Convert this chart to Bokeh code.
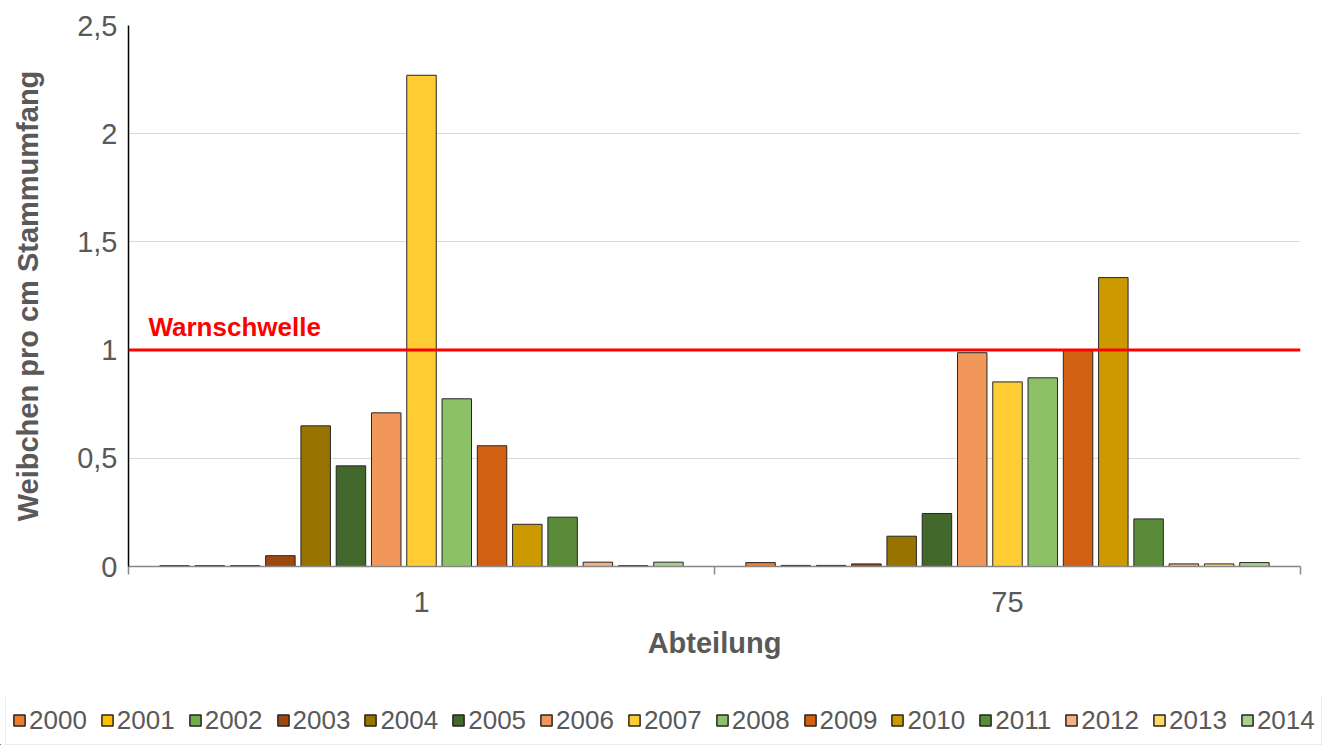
from bokeh.plotting import figure
from bokeh.layouts import column
from bokeh.models import ColumnDataSource, FixedTicker, Range1d, Span, Label, Legend, LegendItem
from bokeh.embed import file_html
from bokeh.resources import INLINE

# ---- data ----
abteilungen = ["1", "75"]
years = ["2000", "2001", "2002", "2003", "2004", "2005", "2006", "2007",
         "2008", "2009", "2010", "2011", "2012", "2013", "2014"]
values_1 = [0.004, 0.004, 0.004, 0.05, 0.65, 0.465, 0.71, 2.27,
            0.775, 0.558, 0.195, 0.228, 0.02, 0.004, 0.02]
values_75 = [0.018, 0.005, 0.005, 0.012, 0.14, 0.245, 0.988, 0.853,
             0.872, 1.0, 1.335, 0.22, 0.012, 0.012, 0.018]
colors = ["#ED7D31", "#FFC000", "#70AD47", "#9E480E", "#997300", "#43682B",
          "#F1975A", "#FFCD33", "#8CC168", "#D26012", "#CC9A00", "#5A8B39",
          "#F4B183", "#FFD966", "#A9D18E"]
threshold = 1.0
threshold_label = "Warnschwelle"
y_ticks = [0, 0.5, 1, 1.5, 2, 2.5]
y_tick_labels = ["0", "0,5", "1", "1,5", "2", "2,5"]
x_title = "Abteilung"
y_title = "Weibchen pro cm Stammumfang"

FONT = "Liberation Sans"
GRAY = "#595959"
OUTLINE = "#262626"

p = figure(width=1325, height=697, output_backend="svg", toolbar_location=None,
           x_range=Range1d(0, len(abteilungen)), y_range=Range1d(0, 2.5),
           min_border_left=128, min_border_right=25, min_border_top=25,
           min_border_bottom=131)
p.frame_align = False
p.outline_line_color = None
p.xgrid.visible = False
p.ygrid.grid_line_color = "#d9d9d9"
p.ygrid.grid_line_width = 1

# bars
n = len(years)
pitch = 0.0602
bar_w = 0.0503
for j, yr in enumerate(years):
    off = (j - (n - 1) / 2) * pitch
    src = ColumnDataSource(dict(
        x=[i + 0.5 + off for i in range(len(abteilungen))],
        top=[values_1[j], values_75[j]],
    ))
    p.vbar(x="x", top="top", width=bar_w, bottom=0, source=src,
           fill_color=colors[j], line_color=OUTLINE, line_width=1)

# threshold
p.add_layout(Span(location=threshold, dimension="width", line_color="#FF0000", line_width=3))
p.add_layout(Label(x=0.034, y=threshold, text=threshold_label, text_color="#FF0000",
                   text_font=FONT, text_font_style="bold", text_font_size="26px",
                   y_offset=23, text_baseline="alphabetic"))

# x axis
xa = p.xaxis[0]
xa.ticker = FixedTicker(ticks=[i + 0.5 for i in range(len(abteilungen))],
                        minor_ticks=list(range(len(abteilungen) + 1)))
xa.major_label_overrides = {i + 0.5: a for i, a in enumerate(abteilungen)}
xa.major_tick_out = 0
xa.major_tick_in = 0
xa.minor_tick_out = 8
xa.minor_tick_in = 0
xa.minor_tick_line_color = "#888888"
xa.minor_tick_line_width = 1.5
xa.axis_line_color = "#888888"
xa.axis_line_width = 1.5
xa.major_label_standoff = 17
xa.major_label_text_font = FONT
xa.major_label_text_font_size = "29px"
xa.major_label_text_color = GRAY
xa.axis_label = x_title
xa.axis_label_text_font = FONT
xa.axis_label_text_font_style = "bold"
xa.axis_label_text_font_size = "29px"
xa.axis_label_text_color = GRAY
xa.axis_label_standoff = 12

# y axis
ya = p.yaxis[0]
ya.ticker = FixedTicker(ticks=y_ticks, minor_ticks=[])
ya.major_label_overrides = {t: l for t, l in zip(y_ticks, y_tick_labels)}
ya.major_tick_out = 0
ya.major_tick_in = 0
ya.axis_line_color = "#000000"
ya.axis_line_width = 1.5
ya.major_label_standoff = 11
ya.major_label_text_font = FONT
ya.major_label_text_font_size = "29px"
ya.major_label_text_color = GRAY
ya.axis_label = y_title
ya.axis_label_text_font = FONT
ya.axis_label_text_font_style = "bold"
ya.axis_label_text_font_size = "29px"
ya.axis_label_text_color = GRAY
ya.axis_label_standoff = 30

# legend strip (own figure so the legend may be wider than the plot frame)
lf = figure(width=1325, height=48, output_backend="svg", toolbar_location=None,
            x_range=Range1d(0, 1), y_range=Range1d(0, 1),
            x_axis_type=None, y_axis_type=None,
            min_border_left=0, min_border_right=0, min_border_top=0, min_border_bottom=0)
lf.frame_align = False
lf.outline_line_color = None
lf.grid.visible = False
items = []
for j, yr in enumerate(years):
    # placeholder renderer outside the visible range, only to carry the legend swatch style
    r = lf.vbar(x=[-5], top=[0], width=0.1, fill_color=colors[j],
                line_color=OUTLINE, line_width=1.5)
    items.append(LegendItem(label=yr, renderers=[r]))

legend = Legend(items=items, orientation="horizontal", location=(5, 0),
                glyph_width=14, glyph_height=14, label_standoff=3, spacing=13,
                padding=6, margin=0, label_height=36,
                label_text_font=FONT, label_text_font_size="26px",
                label_text_color=GRAY,
                border_line_color="#d9d9d9", border_line_width=1,
                background_fill_color="white")
lf.add_layout(legend, "center")

layout = column(p, lf, spacing=0)
open("out.html", "w").write(file_html(layout, INLINE))
